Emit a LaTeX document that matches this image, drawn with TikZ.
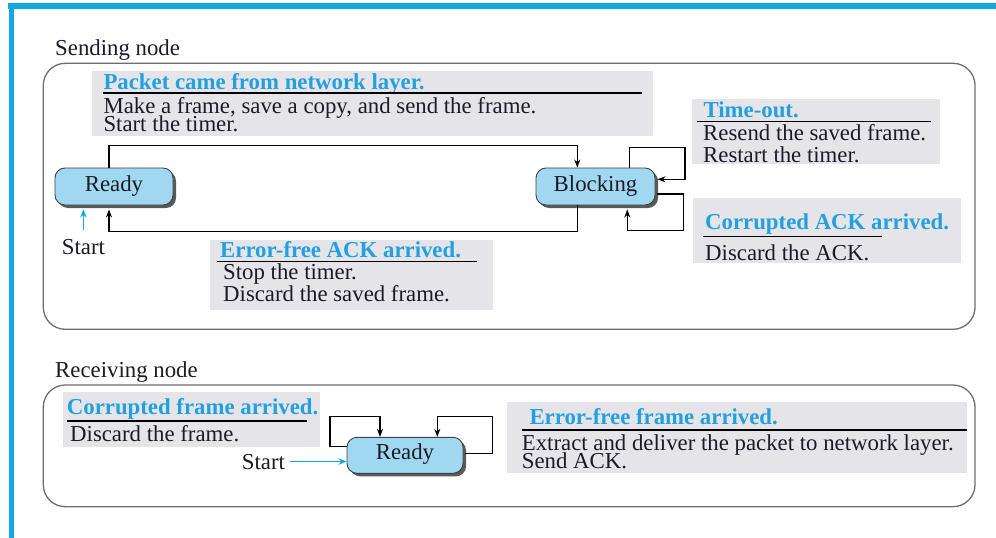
\documentclass[tikz,border=0pt]{standalone}
\usepackage{fontspec}
\setmainfont{Liberation Serif}
\usetikzlibrary{arrows.meta,shadows,calc}
\definecolor{frameblue}{RGB}{18,168,228}
\definecolor{headblue}{RGB}{35,160,222}
\definecolor{boxgray}{RGB}{229,229,233}
\definecolor{statefill}{RGB}{160,216,242}
\definecolor{outline}{RGB}{110,110,110}
\definecolor{ink}{RGB}{30,25,40}
\tikzset{
 txt/.style={anchor=base west, inner sep=0pt, text=ink, font=\fontsize{22.8}{16}\selectfont},
 head/.style={anchor=base west, inner sep=0pt, text=headblue, font=\fontsize{22.8}{16}\selectfont\bfseries},
 panel/.style={draw=outline, line width=1.3pt, rounded corners=22pt},
 graybox/.style={fill=boxgray},
 rulel/.style={draw=black, line width=1.2pt},
 state/.style={draw=black!75, line width=0.9pt, fill=statefill, rounded corners=10pt,
   minimum width=118pt, minimum height=37pt, inner sep=0pt, text height=12pt, text depth=3pt,
   text=ink, font=\fontsize{22.8}{16}\selectfont,
   drop shadow={shadow xshift=3pt, shadow yshift=-3pt, fill=black!65, opacity=1}},
 conn/.style={draw=black, line width=1.1pt, -{Stealth[length=8pt,width=6pt]}},
 startarr/.style={draw=frameblue, line width=1.7pt, -{Stealth[length=8pt,width=6.5pt]}},
}
\begin{document}
\begin{tikzpicture}[x=1pt,y=-1pt]
\fill[white] (0,0) rectangle (996,538);
\useasboundingbox (0,0) rectangle (996,538);
% blue frame
\draw[frameblue, line width=5.5pt] (8,6) -- (996,6);
\draw[frameblue, line width=5pt] (11,3.5) -- (11,538);

% ---------------- Sending node ----------------
\node[txt] (sendLbl) at (55,55) {Sending node};
\draw[panel] (43.3,63.3) rectangle (975,329.3);

% packet box
\fill[graybox] (92,71) rectangle (652.7,136);
\node[head] (pkH) at (103.3,89.5) {Packet came from network layer.};
\draw[rulel] (103,93) -- (641.7,93);
\node[txt] (pkB1) at (103.3,113) {Make a frame, save a copy, and send the frame.};
\node[txt] (pkB2) at (103.3,131) {Start the timer.};

% time-out box
\fill[graybox] (692,99) rectangle (940,164);
\node[head] (toH) at (703.3,117) {Time-out.};
\draw[rulel] (697,121.7) -- (931,121.7);
\node[txt] (toB1) at (703,140.5) {Resend the saved frame.};
\node[txt] (toB2) at (703,162) {Restart the timer.};

% corrupted ACK box
\fill[graybox] (693,197.7) rectangle (961,263);
\node[head] (caH) at (705,229) {Corrupted ACK arrived.};
\draw[rulel] (703,236.7) -- (882,236.7);
\node[txt] (caB) at (705,260.5) {Discard the ACK.};

% error-free ACK box
\fill[graybox] (210,240) rectangle (492.7,310);
\node[head] (efH) at (220,257) {Error-free ACK arrived.};
\draw[rulel] (216.7,261.7) -- (477,261.7);
\node[txt] (efB1) at (223,279) {Stop the timer.};
\node[txt] (efB2) at (223,301) {Discard the saved frame.};

% states
\node[state] (sReady) at (114,186.5) {Ready};
\node[state, minimum width=119pt] (sBlock) at (595.5,186.5) {Blocking};

% connectors
\draw[conn] ([xshift=-5pt]sReady.north) -- ++(0,-22.3) -| ([xshift=-18.2pt]sBlock.north);
\draw[conn] ([xshift=-18.2pt]sBlock.south) -- ++(0,25.7) -| ([xshift=-5pt,yshift=-4pt]sReady.south);
\coordinate (toC) at (685,147.3);
\draw[conn] ([xshift=33.8pt]sBlock.north) |- (toC) |- ([yshift=7.2pt,xshift=2pt]sBlock.east);
\coordinate (caC) at (683.3,230.7);
\draw[conn] ([yshift=-7.5pt,xshift=2pt]sBlock.east) -| (caC) -| ([xshift=31.8pt,yshift=-4pt]sBlock.south);

\node[txt] (sStart) at (61.7,254) {Start};
\draw[startarr, shorten <=9pt] (sStart.north) -- ($(sStart.north |- sReady.south)+(0,4)$);

% ---------------- Receiving node ----------------
\node[txt] (recvLbl) at (55,377.5) {Receiving node};
\draw[panel] (43.3,385) rectangle (975,506.7);

\fill[graybox] (63.3,391.7) rectangle (320,446.7);
\node[head] (cfH) at (66.7,414.5) {Corrupted frame arrived.};
\draw[rulel] (66.7,421) -- (306.7,421);
\node[txt] (cfB) at (70,441) {Discard the frame.};

\fill[graybox] (506.7,401.7) rectangle (966.7,473.3);
\node[head] (effH) at (529.3,424.5) {Error-free frame arrived.};
\draw[rulel] (521.7,430) -- (966.7,430);
\node[txt] (effB1) at (521.7,450.5) {Extract and deliver the packet to network layer.};
\node[txt] (effB2) at (521.7,468) {Send ACK.};

\node[state, minimum width=116pt, minimum height=36pt] (rReady) at (405,455.3) {Ready};

\coordinate (rl) at (330,416.7);
\draw[conn] ([yshift=8.6pt]rReady.west) -| (rl) -| ([xshift=-25pt]rReady.north);
\coordinate (rr) at (492.7,416.7);
\draw[conn] ([yshift=2pt,xshift=2pt]rReady.east) -| (rr) -| ([xshift=32.3pt]rReady.north);

\node[txt] (rStart) at (241.7,469) {Start};
\draw[startarr, shorten <=5pt] (rStart.east) -- (rStart.east -| rReady.west);
\end{tikzpicture}
\end{document}
